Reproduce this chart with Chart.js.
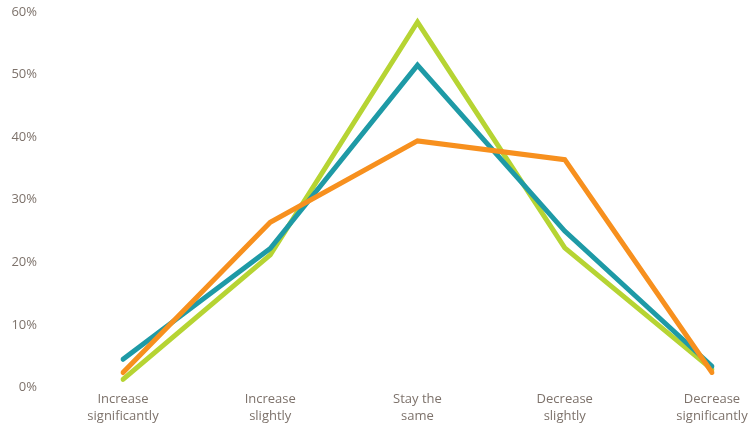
<!DOCTYPE html>
<html>
<head>
<meta charset="utf-8">
<script src="https://cdn.jsdelivr.net/npm/chart.js@4/dist/chart.umd.min.js"></script>
<style>
  html, body { margin: 0; padding: 0; background: #ffffff; }
  #wrap { width: 756px; height: 425px; position: relative; }
</style>
</head>
<body>
<div id="wrap"><canvas id="chart"></canvas></div>
<script>
// Expected change categories (two-line labels)
const categories = [
  ["Increase", "significantly"],
  ["Increase", "slightly"],
  ["Stay the", "same"],
  ["Decrease", "slightly"],
  ["Decrease", "significantly"]
];

// Share of respondents (%) per series
const orangeValues = [2.4, 26.4, 39.4, 36.4, 2.4];
const tealValues   = [4.5, 22.2, 51.5, 25.0, 3.4];
const limeValues   = [1.3, 21.2, 58.4, 22.3, 2.9];

// Y tick values
const yTicks = [0, 10, 20, 30, 40, 50, 60];

const textColor = "#7d726b";

const lineStyle = {
  borderWidth: 5,
  pointRadius: 0,
  pointHoverRadius: 0,
  tension: 0,
  fill: false,
  borderCapStyle: "round",
  borderJoinStyle: "miter"
};

new Chart(document.getElementById("chart"), {
  type: "line",
  data: {
    labels: categories,
    datasets: [
      Object.assign({ label: "Orange", data: orangeValues, borderColor: "#f7901e" }, lineStyle),
      Object.assign({ label: "Teal", data: tealValues, borderColor: "#1e9aa6" }, lineStyle),
      Object.assign({ label: "Lime", data: limeValues, borderColor: "#b6d433" }, lineStyle)
    ]
  },
  options: {
    responsive: true,
    maintainAspectRatio: false,
    animation: false,
    layout: { padding: 0 },
    plugins: {
      legend: { display: false },
      tooltip: { enabled: false }
    },
    scales: {
      x: {
        type: "category",
        offset: false,
        grid: { display: false, drawTicks: false },
        border: { display: false },
        afterFit: (axis) => {
          axis.paddingLeft = 0;
          axis.paddingRight = 44;
          axis.height -= 3;
        },
        ticks: {
          color: textColor,
          font: { family: "'Open Sans', sans-serif", size: 13, lineHeight: 1.25 },
          padding: 4,
          maxRotation: 0,
          autoSkip: false
        }
      },
      y: {
        min: 0,
        max: 60,
        grid: { display: false, drawTicks: false },
        border: { display: false },
        afterBuildTicks: (axis) => { axis.ticks = yTicks.map(v => ({ value: v })); },
        // wide gap between labels and plot; keep the vertical padding tight
        afterFit: (axis) => {
          axis.width = 123;
          axis.paddingTop = 12;
          axis.paddingBottom = 0;
        },
        ticks: {
          color: textColor,
          font: { family: "'Open Sans', sans-serif", size: 13 },
          padding: 86,
          callback: (v) => v + "%"
        }
      }
    }
  }
});
</script>
</body>
</html>
